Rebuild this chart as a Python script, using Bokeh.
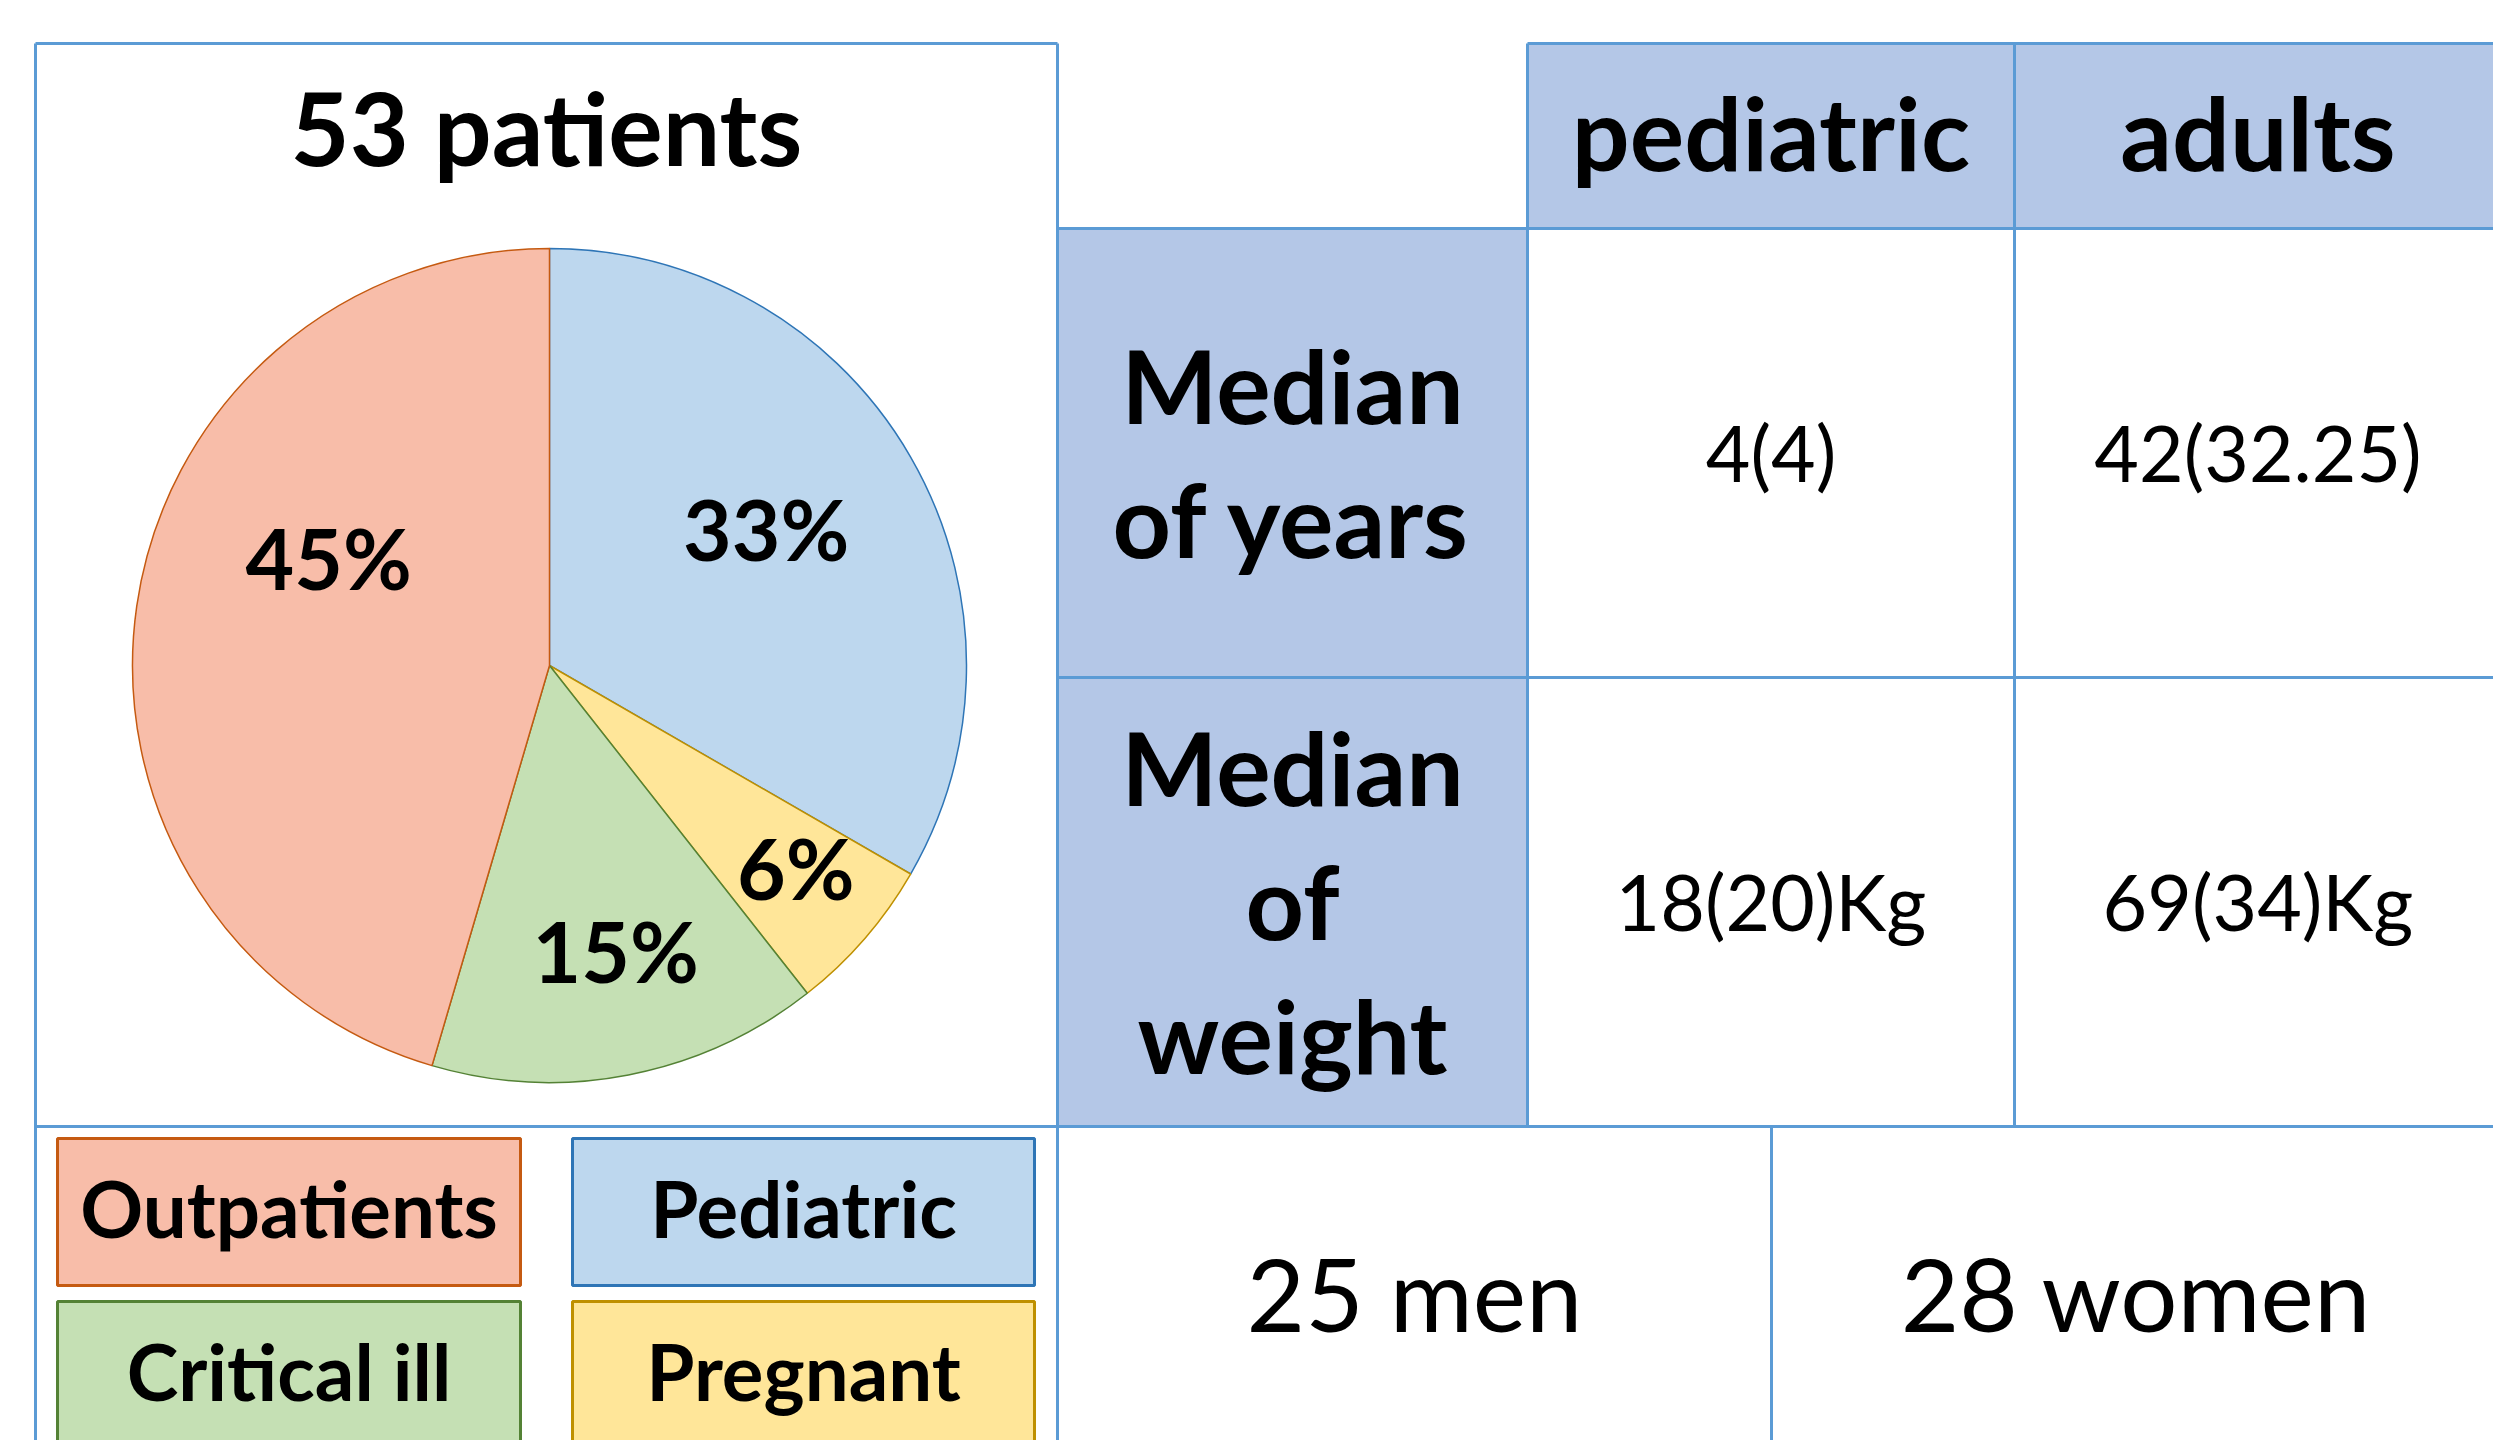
import math
from bokeh.plotting import figure
from bokeh.models import Range1d
from bokeh.embed import file_html
from bokeh.resources import INLINE
from bokeh.core.properties import value

# ---------------- data ----------------
title = "53 patients"
slice_names = ["Pediatric", "Pregnant", "Critical ill", "Outpatients"]
slice_pct = [33, 6, 15, 45]
slice_fill = ["#BDD7EE", "#FFE699", "#C5E0B4", "#F8BDA9"]
slice_line = ["#2E75B6", "#BF9000", "#548235", "#C55A11"]
legend_order = ["Outpatients", "Pediatric", "Critical ill", "Pregnant"]
col_headers = ["pediatric", "adults"]
row_header_lines = [["Median", "of years"], ["Median", "of", "weight"]]
cell_values = [["4(4)", "42(32.25)"], ["18(20)Kg", "69(34)Kg"]]
sex_counts = [25, 28]
sex_names = ["men", "women"]

# ---------------- layout (screen pixels) ----------------
W, H = 2493, 1440
FONT = "Lato"
BLUE = "#5B9BD5"
HEAD = "#B4C7E7"

box_l, box_r, top = 35, 1057, 43
col_x = [1057, 1527, 2014, 2501]
row_y = [43, 228, 677, 1126, 1468]
split_x = 1771
pie_cx, pie_cy, pie_r = 549, 665, 417
title_cy = 131
label_r = [0.61, 0.77, 0.71, 0.585]
label_da = [-1.6, -1.0, -2.0, 17.0]
leg_cols = [(57, 520), (572, 1034)]
leg_rows = [(1138, 1285), (1301, 1448)]
line_gap = 134
BIG, PIE_LBL, LEG, VAL, SEX = 102, 84, 78, 77, 101


def Y(y):
    return H - y


p = figure(width=W, height=H, x_range=Range1d(0, W), y_range=Range1d(0, H),
           output_backend="svg", toolbar_location=None, min_border=0,
           x_axis_location=None, y_axis_location=None)
p.grid.visible = False
p.outline_line_color = None
p.background_fill_color = "white"
p.border_fill_color = "white"


def txt(xs, ycs, texts, size, bold=True):
    # anchor placed so that the cap-height centre lands on yc
    p.text(x=xs, y=[Y(yc - 0.045 * size) for yc in ycs], text=texts,
           text_font=value(FONT), text_font_size=f"{size}px",
           text_font_style="bold" if bold else "normal",
           text_align="center", text_baseline="alphabetic", text_color="black")


# table fills
p.quad(left=[col_x[1]], right=[col_x[3]], top=[Y(row_y[0])], bottom=[Y(row_y[1])],
       fill_color=HEAD, line_color=None)
p.quad(left=[col_x[0]], right=[col_x[1]], top=[Y(row_y[1])], bottom=[Y(row_y[3])],
       fill_color=HEAD, line_color=None)

# pie
total = sum(slice_pct)
cum = 0.0
starts, ends, mids = [], [], []
for v in slice_pct:
    a0 = cum / total
    cum += v
    a1 = cum / total
    starts.append(math.pi / 2 - 2 * math.pi * a0)
    ends.append(math.pi / 2 - 2 * math.pi * a1)
    mids.append((a0 + a1) / 2 * 360)
p.wedge(x=[pie_cx] * 4, y=[Y(pie_cy)] * 4, radius=pie_r, start_angle=starts, end_angle=ends,
        direction="clock", fill_color=slice_fill, line_color=slice_line, line_width=1.5)

lx, ly, lt = [], [], []
for v, m, rf, da in zip(slice_pct, mids, label_r, label_da):
    ang = math.radians(m + da)
    lx.append(pie_cx + rf * pie_r * math.sin(ang))
    ly.append(pie_cy - rf * pie_r * math.cos(ang))
    lt.append(f"{v}%")
txt(lx, ly, lt, PIE_LBL)

# title
txt([(box_l + box_r) / 2], [title_cy], [title], BIG)

# legend boxes
for i, name in enumerate(legend_order):
    k = slice_names.index(name)
    (x0, x1) = leg_cols[i % 2]
    (y0, y1) = leg_rows[i // 2]
    p.quad(left=[x0], right=[x1], top=[Y(y0)], bottom=[Y(y1)],
           fill_color=slice_fill[k], line_color=slice_line[k], line_width=3)
    txt([(x0 + x1) / 2], [(y0 + y1) / 2], [name], LEG)

# grid lines
segs = [
    (box_l, top, box_r, top),
    (box_l, top, box_l, H + 20),
    (box_r, top, box_r, H + 20),
    (box_l, row_y[3], W + 20, row_y[3]),
    (col_x[1], top, W + 20, top),
    (col_x[0], row_y[1], W + 20, row_y[1]),
    (col_x[0], row_y[2], W + 20, row_y[2]),
    (col_x[1], top, col_x[1], row_y[3]),
    (col_x[2], top, col_x[2], row_y[3]),
    (split_x, row_y[3], split_x, H + 20),
]
p.segment(x0=[s[0] for s in segs], y0=[Y(s[1]) for s in segs],
          x1=[s[2] for s in segs], y1=[Y(s[3]) for s in segs],
          line_color=BLUE, line_width=3)

# column headers
txt([(col_x[1] + col_x[2]) / 2, (col_x[2] + col_x[3]) / 2],
    [(row_y[0] + row_y[1]) / 2] * 2, col_headers, BIG)

# row headers and cells
for r, lines in enumerate(row_header_lines):
    yc = (row_y[r + 1] + row_y[r + 2]) / 2 + 3
    n = len(lines)
    ys = [yc + (j - (n - 1) / 2) * line_gap for j in range(n)]
    txt([(col_x[0] + col_x[1]) / 2] * n, ys, lines, BIG)
    txt([(col_x[1] + col_x[2]) / 2, (col_x[2] + col_x[3]) / 2],
        [yc - 1] * 2, cell_values[r], VAL, bold=False)

# sex counts
txt([(col_x[0] + split_x) / 2, (split_x + col_x[3]) / 2],
    [(row_y[3] + row_y[4]) / 2] * 2,
    [f"{c} {n}" for c, n in zip(sex_counts, sex_names)], SEX, bold=False)

open("out.html", "w").write(file_html(p, INLINE))
